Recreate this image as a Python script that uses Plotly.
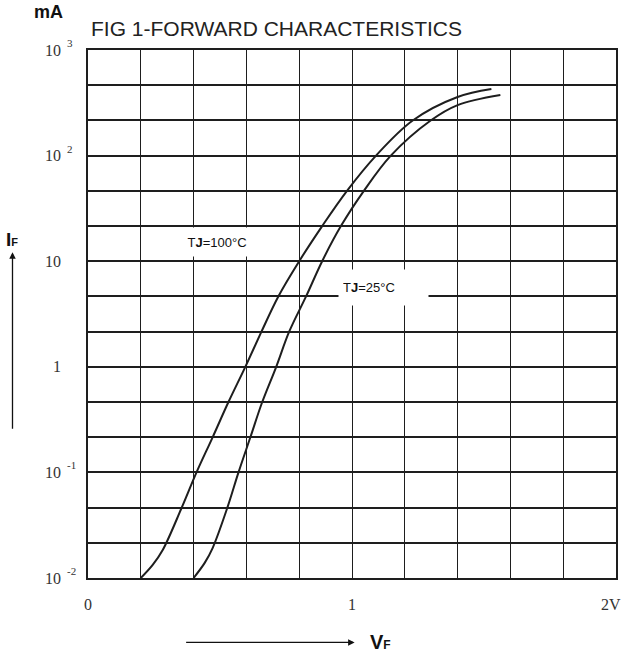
import plotly.graph_objects as go

# ---- data ----
v_100 = [0.2, 0.245, 0.283, 0.355, 0.411, 0.472, 0.532, 0.596, 0.657, 0.721, 0.8, 0.887, 0.981, 1.091, 1.23, 1.4, 1.528]
i_100 = [0.01, 0.0133, 0.0184, 0.0464, 0.1, 0.215, 0.464, 1, 2.15, 4.64, 10, 21.5, 46.4, 100, 215, 359, 427]
v_25 = [0.4, 0.442, 0.472, 0.528, 0.57, 0.615, 0.66, 0.713, 0.762, 0.826, 0.887, 0.958, 1.045, 1.147, 1.298, 1.4, 1.562]
i_25 = [0.01, 0.0139, 0.0192, 0.0464, 0.1, 0.215, 0.464, 1, 2.15, 4.64, 10, 21.5, 46.4, 100, 215, 301, 375]

y_decades = [3, 2, 1, 0, -1, -2]
y_base_labels = ["10", "10", "10", "1", "10", "10"]
y_exp_labels = ["3", "2", "", "", "-1", "-2"]
x_grid = [0, 0.2, 0.4, 0.6, 0.8, 1.0, 1.2, 1.4, 1.6, 1.8, 2.0]
x_label_vals = [0, 1, 2]
x_label_text = ["0", "1", "2V"]

INK = "#1e1e1e"
SERIF = "Liberation Serif, Times New Roman, serif"
NARROW = "Liberation Sans Narrow, Liberation Sans, Arial, sans-serif"

# grid values: three equal subdivisions per decade
y_grid = []
for d in range(-2, 3):
    for s in range(3):
        y_grid.append(10 ** (d + s / 3))
y_grid.append(10 ** 3)

fig = go.Figure()
for v, i in [(v_100, i_100), (v_25, i_25)]:
    fig.add_trace(go.Scatter(x=v, y=i, mode="lines",
                             line=dict(color=INK, width=2, shape="spline", smoothing=1.0),
                             showlegend=False, hoverinfo="skip"))

fig.update_xaxes(range=[0, 2], tickvals=x_grid, showticklabels=False, ticks="",
                 showgrid=True, gridcolor=INK, gridwidth=1.4,
                 showline=True, mirror=True, linecolor=INK, linewidth=1.6, zeroline=False)
fig.update_yaxes(type="log", range=[-2, 3], tickvals=y_grid, showticklabels=False, ticks="",
                 showgrid=True, gridcolor=INK, gridwidth=1.6,
                 showline=True, mirror=True, linecolor=INK, linewidth=1.6, zeroline=False)

ann = []
# y tick labels (base right-aligned, exponent raised to the right)
for d, b, e in zip(y_decades, y_base_labels, y_exp_labels):
    ann.append(dict(x=-0.047, xref="paper", y=d, yref="y", text=b, showarrow=False,
                    xanchor="right", yanchor="middle",
                    font=dict(family=SERIF, size=16, color="#333")))
    if e:
        ann.append(dict(x=-0.043, xref="paper", y=d, yref="y", text=e, showarrow=False,
                        xanchor="left", yanchor="middle", yshift=7,
                        font=dict(family=SERIF, size=11, color="#333")))
# x tick labels
for xv, t in zip(x_label_vals, x_label_text):
    ann.append(dict(x=xv, xref="x", y=-0.05, yref="paper", text=t, showarrow=False,
                    xanchor="center", yanchor="middle",
                    xshift=-5 if t == "2V" else 0,
                    font=dict(family=SERIF, size=16, color="#333")))

# title and unit
ann.append(dict(x=0.002, xref="paper", y=1.04, yref="paper", text="FIG 1-FORWARD CHARACTERISTICS",
                showarrow=False, xanchor="left", yanchor="middle",
                font=dict(family="Liberation Sans, Arial, sans-serif", size=21, color="#222")))
ann.append(dict(x=-0.074, xref="paper", y=1.072, yref="paper", text="<b>mA</b>",
                showarrow=False, xanchor="center", yanchor="middle",
                font=dict(family=NARROW, size=18, color="#111")))

# axis names with arrows
ann.append(dict(x=-0.143, xref="paper", y=0.617, yref="paper", text="", showarrow=True,
                ax=0, ay=178, axref="pixel", ayref="pixel",
                arrowhead=2, arrowsize=1, arrowwidth=1.3, arrowcolor="#111"))
ann.append(dict(x=-0.144, xref="paper", y=0.642, yref="paper",
                text="<b>I</b><span style='font-size:11px'><b>F</b></span>",
                showarrow=False, xanchor="center", yanchor="middle",
                font=dict(family=NARROW, size=19, color="#111")))
ann.append(dict(x=0.505, xref="paper", y=-0.122, yref="paper", text="", showarrow=True,
                ax=-170, ay=0, axref="pixel", ayref="pixel",
                arrowhead=2, arrowsize=1, arrowwidth=1.3, arrowcolor="#111"))
ann.append(dict(x=0.53, xref="paper", y=-0.122, yref="paper",
                text="<b>V</b><span style='font-size:12px'><b>F</b></span>",
                showarrow=False, xanchor="left", yanchor="middle",
                font=dict(family=NARROW, size=20, color="#111")))

# curve labels with white boxes
ann.append(dict(x=0.487, xref="x", y=1.182, yref="y",
                text="T<b>J</b>=100°C", showarrow=False,
                xanchor="center", yanchor="middle", bgcolor="white",
                width=62, height=20, borderpad=4,
                font=dict(family=NARROW, size=13, color="#111")))
ann.append(dict(x=1.119, xref="x", y=0.751, yref="y",
                text="T<b>J</b>=25°C", showarrow=False, align="left",
                xanchor="center", yanchor="middle", bgcolor="white",
                width=81, height=27, borderpad=4,
                font=dict(family=NARROW, size=13, color="#111")))

fig.update_layout(width=625, height=654, margin=dict(l=88, r=7, t=50, b=76),
                  plot_bgcolor="white", paper_bgcolor="white", annotations=ann)

fig.write_html("out.html", config={"displayModeBar": False},
               post_script="document.body.style.margin='0';document.body.style.padding='0';")
